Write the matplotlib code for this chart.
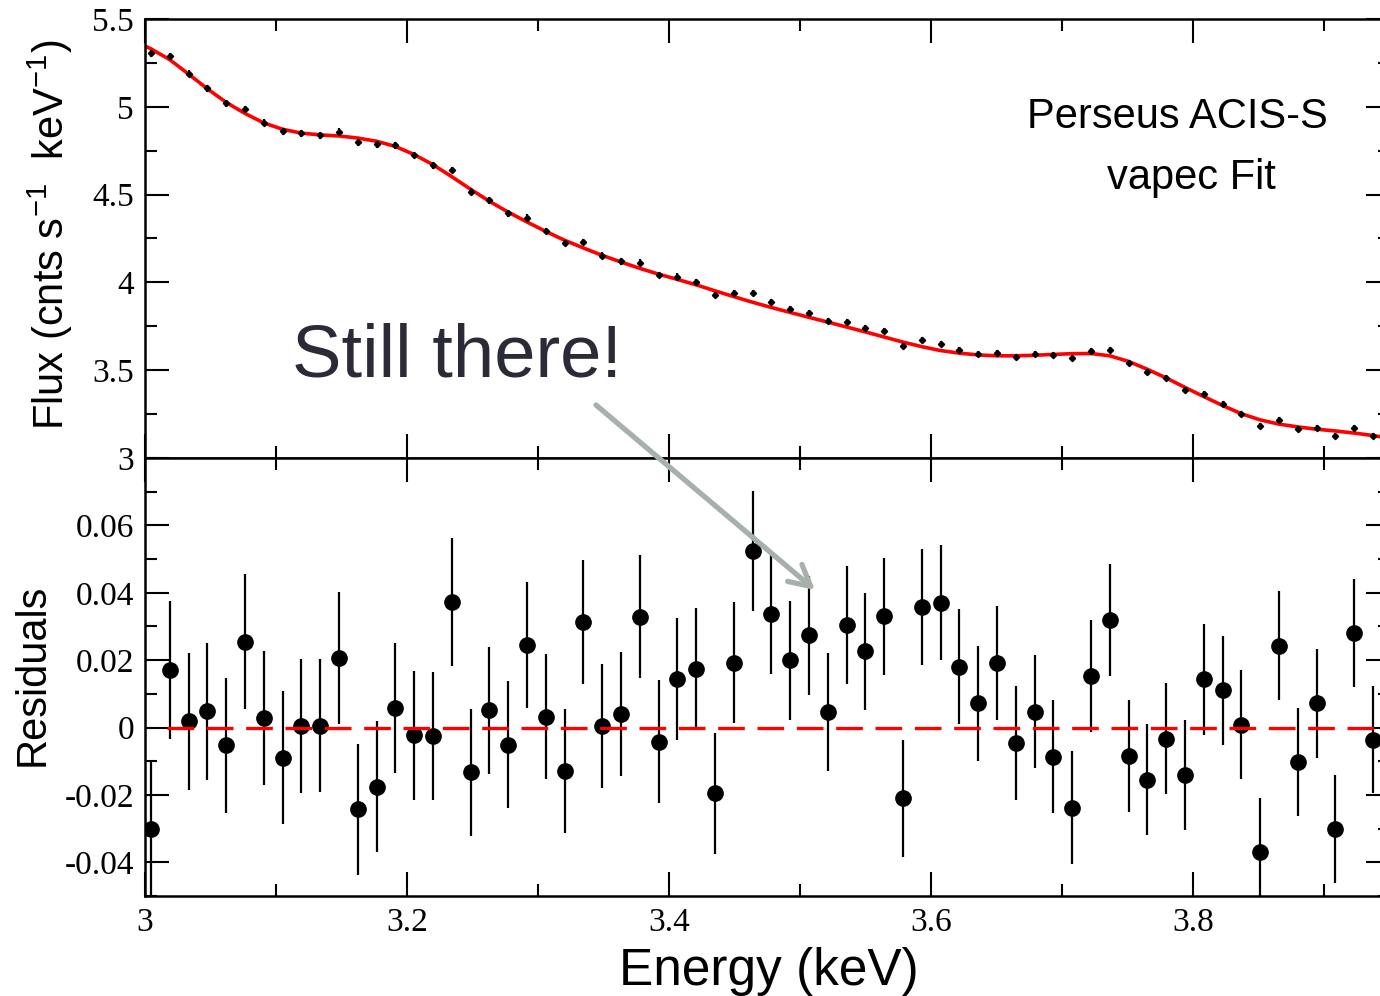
import numpy as np
import matplotlib
matplotlib.use("Agg")
from matplotlib import pyplot as plt
from matplotlib.ticker import MultipleLocator

plt.rcParams['mathtext.fontset'] = 'custom'
plt.rcParams['mathtext.rm'] = 'Liberation Sans'
plt.rcParams['mathtext.it'] = 'Liberation Sans'

# bin centres (keV)
energy = [3.0046, 3.0190, 3.0333, 3.0477, 3.0620, 3.0764, 3.0907, 3.1051, 3.1194, 3.1338,
          3.1481, 3.1625, 3.1768, 3.1912, 3.2055, 3.2199, 3.2342, 3.2486, 3.2629, 3.2773,
          3.2916, 3.3060, 3.3203, 3.3347, 3.3490, 3.3634, 3.3777, 3.3921, 3.4064, 3.4208,
          3.4351, 3.4495, 3.4638, 3.4782, 3.4925, 3.5069, 3.5212, 3.5356, 3.5499, 3.5643,
          3.5786, 3.5930, 3.6073, 3.6217, 3.6360, 3.6504, 3.6647, 3.6791, 3.6934, 3.7078,
          3.7221, 3.7365, 3.7508, 3.7652, 3.7795, 3.7939, 3.8082, 3.8226, 3.8369, 3.8513,
          3.8656, 3.8800, 3.8943, 3.9087, 3.9230, 3.9374]

flux = [5.304, 5.287, 5.188, 5.106, 5.019, 4.986, 4.910, 4.862, 4.848, 4.838,
        4.857, 4.798, 4.787, 4.781, 4.725, 4.667, 4.640, 4.517, 4.467, 4.394,
        4.368, 4.292, 4.225, 4.229, 4.153, 4.120, 4.113, 4.043, 4.033, 4.003,
        3.929, 3.938, 3.940, 3.890, 3.850, 3.828, 3.778, 3.776, 3.742, 3.723,
        3.639, 3.670, 3.649, 3.616, 3.592, 3.599, 3.578, 3.590, 3.584, 3.571,
        3.611, 3.613, 3.540, 3.489, 3.455, 3.386, 3.365, 3.310, 3.251, 3.181,
        3.217, 3.167, 3.171, 3.127, 3.173, 3.124]

resid = [-0.0302, 0.0172, 0.0018, 0.0048, -0.0053, 0.0255, 0.0029, -0.0089, 0.0004, 0.0005,
         0.0207, -0.0243, -0.0176, 0.0059, -0.0023, -0.0025, 0.0373, -0.0133, 0.0051, -0.0051,
         0.0244, 0.0032, -0.0129, 0.0313, 0.0004, 0.0040, 0.0329, -0.0042, 0.0143, 0.0175,
         -0.0195, 0.0193, 0.0525, 0.0337, 0.0200, 0.0274, 0.0045, 0.0304, 0.0226, 0.0330,
         -0.0210, 0.0358, 0.0370, 0.0181, 0.0072, 0.0191, -0.0045, 0.0047, -0.0086, -0.0238,
         0.0153, 0.0318, -0.0085, -0.0155, -0.0033, -0.0141, 0.0143, 0.0110, 0.0009, -0.0370,
         0.0243, -0.0103, 0.0072, -0.0301, 0.0281, -0.0036]

err = [0.0205, 0.0205, 0.0204, 0.0203, 0.0201, 0.0200, 0.0199, 0.0198, 0.0198, 0.0197,
       0.0196, 0.0195, 0.0194, 0.0193, 0.0192, 0.0191, 0.0190, 0.0189, 0.0189, 0.0188,
       0.0187, 0.0186, 0.0185, 0.0184, 0.0184, 0.0183, 0.0183, 0.0182, 0.0181, 0.0180,
       0.0180, 0.0179, 0.0178, 0.0177, 0.0177, 0.0176, 0.0175, 0.0175, 0.0174, 0.0173,
       0.0173, 0.0172, 0.0171, 0.0171, 0.0170, 0.0169, 0.0169, 0.0168, 0.0168, 0.0167,
       0.0167, 0.0166, 0.0166, 0.0165, 0.0165, 0.0164, 0.0164, 0.0163, 0.0163, 0.0162,
       0.0162, 0.0161, 0.0161, 0.0160, 0.0160, 0.0159]

# vapec model curve
model_e = [3.0] + energy + [3.95]
model_f = [5.346,
           5.330, 5.268, 5.186, 5.102, 5.025, 4.962, 4.908, 4.872, 4.850, 4.840,
           4.834, 4.822, 4.804, 4.774, 4.728, 4.670, 4.602, 4.530, 4.462, 4.400,
           4.344, 4.290, 4.240, 4.196, 4.154, 4.116, 4.080, 4.047, 4.017, 3.986,
           3.952, 3.919, 3.887, 3.857, 3.829, 3.801, 3.774, 3.746, 3.718, 3.689,
           3.660, 3.634, 3.612, 3.597, 3.587, 3.582, 3.582, 3.585, 3.590, 3.594,
           3.595, 3.582, 3.550, 3.505, 3.456, 3.402, 3.350, 3.299, 3.252, 3.217,
           3.193, 3.177, 3.164, 3.154, 3.142, 3.128,
           3.113]

zero_span = [3.0165, 3.94]

W, H = 1380, 996
fig = plt.figure(figsize=(W / 100, H / 100), dpi=100)

def px(x0, y_top, x1, y_bot):
    return [x0 / W, 1 - y_bot / H, (x1 - x0) / W, (y_bot - y_top) / H]

ax1 = fig.add_axes(px(145, 19, 1389.5, 458))
ax2 = fig.add_axes(px(145, 458, 1389.5, 896), sharex=ax1)

serif = 'Liberation Serif'
sans = 'Liberation Sans'

ax1.plot(model_e, model_f, color='red', lw=2.6, zorder=2, solid_capstyle='butt')
ax1.errorbar(energy, flux, yerr=err, fmt='D', ms=3.2, color='black',
             elinewidth=1.6, capsize=0, zorder=3)

ax2.errorbar(energy, resid, yerr=err, fmt='o', ms=11, color='black',
             elinewidth=1.6, capsize=0, zorder=2)
ax2.plot(zero_span, [0, 0], color='red', lw=2.4, linestyle=(0, (8.0, 3.8)), zorder=3)

ax1.set_xlim(3.0, 3.95)
ax1.set_ylim(3.0, 5.5)
ax2.set_ylim(-0.05, 0.08)

ax1.yaxis.set_major_locator(MultipleLocator(0.5))
ax1.yaxis.set_minor_locator(MultipleLocator(0.25))
ax2.yaxis.set_major_locator(MultipleLocator(0.02))
ax2.yaxis.set_minor_locator(MultipleLocator(0.01))
ax2.xaxis.set_major_locator(MultipleLocator(0.2))
ax2.xaxis.set_minor_locator(MultipleLocator(0.1))

for ax in (ax1, ax2):
    ax.tick_params(which='both', direction='in', top=True, right=True, width=1.5, pad=8)
    ax.tick_params(which='major', length=17)
    ax.tick_params(which='minor', length=8.5)
    for sp in ax.spines.values():
        sp.set_linewidth(1.8)

ax1.tick_params(labelbottom=False)
ax1.set_yticks([3, 3.5, 4, 4.5, 5, 5.5])
ax1.set_yticklabels(['3', '3.5', '4', '4.5', '5', '5.5'], fontfamily=serif, fontsize=24)
ax2.set_yticks([-0.04, -0.02, 0, 0.02, 0.04, 0.06])
ax2.set_yticklabels(['-0.04', '-0.02', '0', '0.02', '0.04', '0.06'], fontfamily=serif, fontsize=24)
ax2.set_xticks([3, 3.2, 3.4, 3.6, 3.8])
ax2.set_xticklabels(['3', '3.2', '3.4', '3.6', '3.8'], fontfamily=serif, fontsize=24)

fig.text(50 / W, 1 - 235 / H, r'Flux (cnts s$^{\mathregular{-1}}$  keV$^{\mathregular{-1}}$)',
         rotation=90, ha='center', va='center', fontsize=30, family=sans)
fig.text(33 / W, 1 - 675 / H, 'Residuals', rotation=90, ha='center', va='center',
         fontsize=30, family=sans)
fig.text(769 / W, 1 - 985 / H, 'Energy (keV)', ha='center', va='baseline',
         fontsize=37, family=sans)

fig.text(1177 / W, 1 - 128 / H, 'Perseus ACIS-S', ha='center', va='baseline',
         fontsize=30, family=sans)
fig.text(1191 / W, 1 - 189 / H, 'vapec Fit', ha='center', va='baseline',
         fontsize=30, family=sans)

fig.text(292 / W, 1 - 376 / H, 'Still there!', ha='left', va='baseline',
         fontsize=53.5, family=sans, color='#2b2b37')

fig.add_artist(matplotlib.patches.FancyArrowPatch(
    (596 / W, 1 - 405 / H), (815 / W, 1 - 590 / H), transform=fig.transFigure,
    arrowstyle='->,head_length=0.75,head_width=0.4', mutation_scale=20,
    color='#a7b0ab', lw=3.8, shrinkA=0, shrinkB=0, zorder=5))

fig.savefig('out.png', dpi=100)
